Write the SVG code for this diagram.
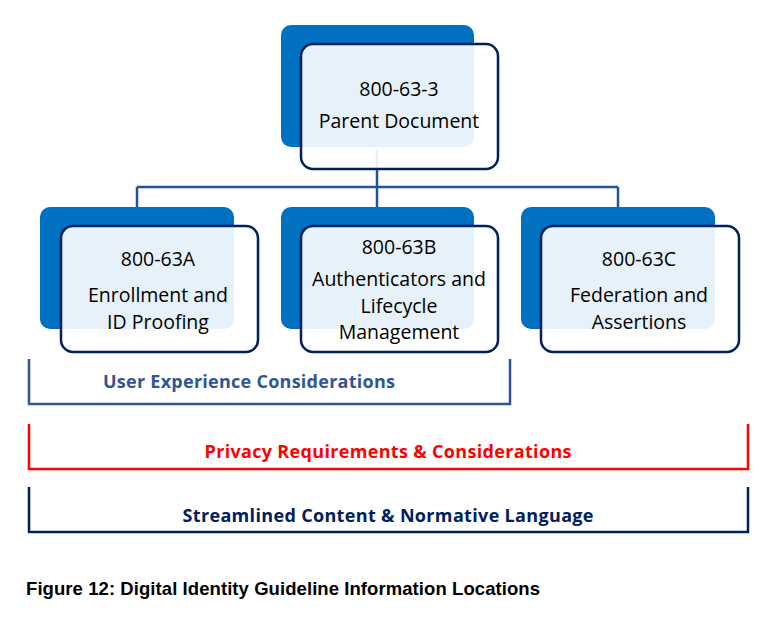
<svg xmlns="http://www.w3.org/2000/svg" width="777" height="619" viewBox="0 0 777 619">
<style>
.back{fill:#0070C0}
.front{fill:#FFFFFF;fill-opacity:0.9;stroke:#002060;stroke-width:2.5}
.t{font-family:"Open Sans","Noto Sans",sans-serif;font-size:19.5px;fill:#000;text-anchor:middle}
.conn{stroke:#1F5597;stroke-width:2.5;fill:none}
.br{fill:none;stroke-width:2.5}
.bl{font-family:"Open Sans","Noto Sans",sans-serif;font-weight:bold;font-size:18px;text-anchor:middle}
.cap{font-family:"Liberation Sans",Arial,sans-serif;font-weight:bold;font-size:18.5px;fill:#000}
</style>
<rect width="777" height="619" fill="#FFFFFF"/>
<g id="connectors">
<line class="conn" x1="377" y1="150" x2="377" y2="187"/>
<line class="conn" x1="137" y1="187" x2="618" y2="187"/>
<line class="conn" x1="137" y1="187" x2="137" y2="207"/>
<line class="conn" x1="377" y1="187" x2="377" y2="207"/>
<line class="conn" x1="618" y1="187" x2="618" y2="207"/>
</g>
<g id="parent">
<rect class="back" x="281" y="25" width="193" height="122" rx="10"/>
<rect class="front" x="301" y="44" width="197" height="125" rx="12"/>
<text class="t" x="399" y="96">800-63-3</text>
<text class="t" x="399" y="128">Parent Document</text>
</g>
<g id="node-a">
<rect class="back" x="40" y="207" width="194" height="122" rx="10"/>
<rect class="front" x="61" y="226" width="197" height="126" rx="12"/>
<text class="t" x="158" y="266">800-63A</text>
<text class="t" x="158" y="302">Enrollment and</text>
<text class="t" x="158" y="329">ID Proofing</text>
</g>
<g id="node-b">
<rect class="back" x="281" y="207" width="193" height="122" rx="10"/>
<rect class="front" x="301" y="226" width="197" height="126" rx="12"/>
<text class="t" x="399" y="254">800-63B</text>
<text class="t" x="399" y="286">Authenticators and</text>
<text class="t" x="399" y="313">Lifecycle</text>
<text class="t" x="399" y="339">Management</text>
</g>
<g id="node-c">
<rect class="back" x="521" y="207" width="194" height="122" rx="10"/>
<rect class="front" x="541" y="226" width="198" height="126" rx="12"/>
<text class="t" x="639" y="266">800-63C</text>
<text class="t" x="639" y="302">Federation and</text>
<text class="t" x="639" y="329">Assertions</text>
</g>
<g id="ux">
<polyline class="br" stroke="#2F5597" points="29,359 29,404 510,404 510,359"/>
<text class="bl" fill="#2F5597" x="249" y="388" textLength="292">User Experience Considerations</text>
</g>
<g id="privacy">
<polyline class="br" stroke="#FF0000" points="29,424 29,469 748,469 748,424"/>
<text class="bl" fill="#FF0000" x="388" y="458" textLength="367">Privacy Requirements &amp; Considerations</text>
</g>
<g id="streamlined">
<polyline class="br" stroke="#002060" points="29,487 29,532 748,532 748,487"/>
<text class="bl" fill="#002060" x="388" y="522" textLength="411">Streamlined Content &amp; Normative Language</text>
</g>
<text class="cap" x="26" y="595" textLength="514">Figure 12: Digital Identity Guideline Information Locations</text>
</svg>
